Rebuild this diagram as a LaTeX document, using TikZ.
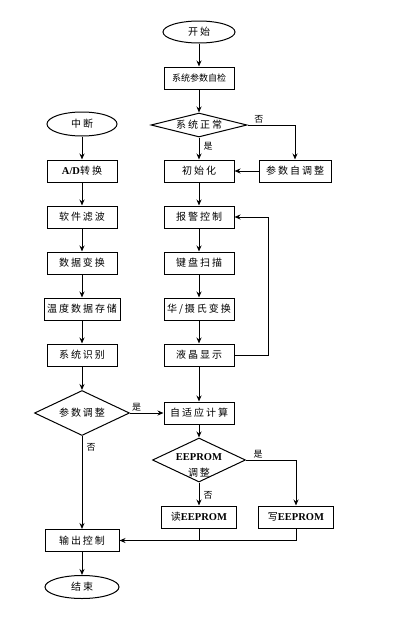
\documentclass[tikz,border=0pt]{standalone}
\usepackage{fontspec}
\setmainfont{Liberation Serif}
\newfontfamily\cjk[LetterSpace=20]{Noto Sans CJK SC}
\newfontfamily\cjktight{Noto Sans CJK SC}
\newcommand\lat[1]{{\rmfamily\bfseries\fontsize{10.5}{12}\selectfont #1}}
\usetikzlibrary{shapes.geometric, arrows.meta, positioning}

\begin{document}
\begin{tikzpicture}[
        x=1pt, y=1pt,
        node distance=23pt,
        box/.style={rectangle, draw, line width=1pt, minimum width=70pt, minimum height=22pt, inner sep=1pt, font=\cjk\fontsize{10}{11}\selectfont},
        term/.style={ellipse, draw, line width=1pt, minimum width=72pt, minimum height=22pt, inner sep=0pt, font=\cjk\fontsize{10}{11}\selectfont},
        test/.style={diamond, draw, line width=1pt, aspect=2, inner sep=0pt, align=center, font=\cjk\fontsize{10}{16}\selectfont},
        lbl/.style={inner sep=1pt, font=\cjktight\fontsize{9}{10}\selectfont},
        arrow/.style={-{Stealth[length=6pt, width=5pt]}, line width=1pt}
    ]
        \useasboundingbox (0,0) rectangle (400,-619);

        % main loop
        \node[term] (start) at (199,-32) {开始};
        \node[box, font=\cjktight\fontsize{9}{10}\selectfont, below=of start] (check) {系统参数自检};
        \node[test, aspect=4, minimum width=96pt, minimum height=24pt, below=of check] (normal) {系统正常};
        \node[box, below=22pt of normal] (init) {初始化};
        \node[box, minimum width=72pt, right=24pt of init] (selfadj) {参数自调整};
        \node[box, below=of init] (alarm) {报警控制};
        \node[box, below=of alarm] (keys) {键盘扫描};
        \node[box, below=of keys] (unit) {华/摄氏变换};
        \node[box, below=of unit] (lcd) {液晶显示};
        \node[box, below=35pt of lcd] (adapt) {自适应计算};
        \node[test, inner sep=-6pt, minimum width=93pt, minimum height=44pt, below=13pt of adapt] (eeq) {\rule{0pt}{17pt}\lat{EEPROM}\\调整};
        \node[box, minimum width=75pt, below=23pt of eeq] (readee) {读\lat{EEPROM}};
        \node[box, minimum width=75pt, right=21pt of readee] (writee) {写\lat{EEPROM}};

        % interrupt
        \node[term, minimum width=70pt, minimum height=24pt] (irq) at (82,-124) {中断};
        \node[box, below=of irq] (adc) {\lat{A/D}转换};
        \node[box, below=of adc] (filter) {软件滤波};
        \node[box, below=of filter] (datconv) {数据变换};
        \node[box, minimum width=76pt, below=of datconv] (store) {温度数据存储};
        \node[box, below=of store] (ident) {系统识别};
        \node[test, minimum width=95pt, minimum height=45pt] (padj) at (ident |- adapt) {参数调整};
        \node[box, minimum width=74pt, below=93pt of padj] (output) {输出控制};
        \node[term, minimum width=74pt, minimum height=23pt, below=of output] (stop) {结束};

        \draw[arrow] (start) -- (check);
        \draw[arrow] (check) -- (normal);
        \draw[arrow] (normal) -- node[lbl, right, pos=0.4, xshift=3pt] {是} (init);
        \draw[arrow] (normal.east) -| node[lbl, above, pos=0.12] {否} (selfadj);
        \draw[arrow] (selfadj) -- (init);
        \draw[arrow] (init) -- (alarm);
        \draw[arrow] (alarm) -- (keys);
        \draw[arrow] (keys) -- (unit);
        \draw[arrow] (unit) -- (lcd);
        \draw[arrow] (lcd.east) -- ++(34pt,0) |- (alarm.east);
        \draw[arrow] (lcd) -- (adapt);

        \draw[arrow] (irq) -- (adc);
        \draw[arrow] (adc) -- (filter);
        \draw[arrow] (filter) -- (datconv);
        \draw[arrow] (datconv) -- (store);
        \draw[arrow] (store) -- (ident);
        \draw[arrow] (ident) -- (padj);
        \draw[arrow] (padj) -- node[lbl, above, pos=0.2] {是} (adapt);
        \draw[arrow] (padj) -- node[lbl, right, pos=0.12, xshift=3pt] {否} (output);

        \draw[arrow] (adapt) -- (eeq);
        \draw[arrow] (eeq.east) -| node[lbl, above, pos=0.12] {是} (writee);
        \draw[arrow] (eeq) -- node[lbl, right, pos=0.55, xshift=3pt] {否} (readee);
        \draw[arrow] (writee.south) |- (output.east);
        \draw[line width=1pt] (readee.south) -- (readee.south |- output.east);
        \draw[arrow] (output) -- (stop);
    \end{tikzpicture}
\end{document}
